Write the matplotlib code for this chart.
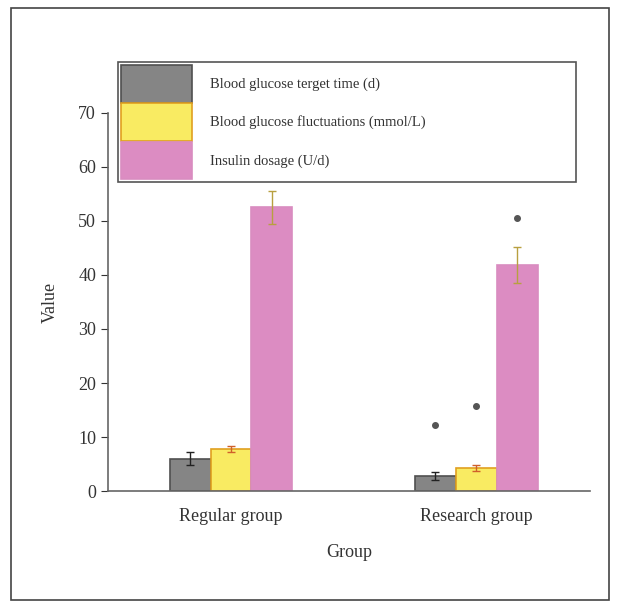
import matplotlib
matplotlib.use('Agg')
import matplotlib.pyplot as plt
from matplotlib.patches import Rectangle
import numpy as np

plt.rcParams['font.family'] = ['Liberation Serif', 'DejaVu Serif']

groups = ['Regular group', 'Research group']
series = ['Blood glucose terget time (d)', 'Blood glucose fluctuations (mmol/L)', 'Insulin dosage (U/d)']
target_time = [6.0, 2.8]
target_err = [1.2, 0.8]
fluctuations = [7.8, 4.3]
fluct_err = [0.5, 0.6]
insulin = [52.5, 41.8]
insulin_err = [3.0, 3.3]
star_values = [12.3, 15.8, 50.5]   # markers above research group bars

values = [target_time, fluctuations, insulin]
errors = [target_err, fluct_err, insulin_err]
colors = ['#858585', '#f9eb62', '#dc8cc2']
edges = ['#505050', '#e0a020', '#d98cc0']
ecolors = ['#222222', '#d0602a', '#b8a040']

fig = plt.figure(figsize=(6.2, 6.08), dpi=100)
ax = fig.add_axes([0.174, 0.1924, 0.778, 0.6218])

x = np.arange(len(groups))
w = 0.167
handles = []
for i in range(3):
    pos = x + (i - 1) * w
    b = ax.bar(pos, values[i], w, color=colors[i], edgecolor=edges[i], linewidth=1.2, label=series[i])
    ax.errorbar(pos, values[i], yerr=errors[i], fmt='none', ecolor=ecolors[i],
                elinewidth=1, capsize=3, capthick=1)
    handles.append(b)

# significance dots for research group
ax.plot(x[1] + (np.arange(3) - 1) * w, star_values, 'o', color='#555555', markersize=4, linestyle='none')

ax.set_xlim(-0.502, 1.465)
ax.set_ylim(0, 70)
ax.set_yticks(range(0, 71, 10))
ax.set_xticks(x)
ax.set_xticklabels(groups, fontsize=13, color='#333333')
ax.tick_params(axis='x', length=0, pad=12)
ax.tick_params(axis='y', labelsize=13, colors='#333333', length=5, direction='out')
for s in ['top', 'right']:
    ax.spines[s].set_visible(False)
for s in ['left', 'bottom']:
    ax.spines[s].set_color('#666666')
    ax.spines[s].set_linewidth(1.2)
ax.set_xlabel('Group', fontsize=13, color='#333333', labelpad=14)
ax.set_ylabel('Value', fontsize=13, color='#333333', labelpad=14)

leg = fig.legend(handles=handles, labels=series, loc='upper left',
                 bbox_to_anchor=(0.19, 0.696, 0.739, 0.202), mode='expand',
                 fontsize=10.5, handlelength=4.9, handleheight=3.6, labelspacing=0.05,
                 handletextpad=1.2, borderaxespad=0, borderpad=0.2,
                 fancybox=False, edgecolor='#555555', framealpha=1)
leg.get_frame().set_linewidth(1.2)
for t in leg.get_texts():
    t.set_color('#333333')

fig.patches.append(Rectangle((11 / 620, 8 / 608), 598 / 620, 592 / 608, transform=fig.transFigure,
                             fill=False, edgecolor='#444444', linewidth=1.2))

plt.savefig('out.png', dpi=100)
plt.close()
